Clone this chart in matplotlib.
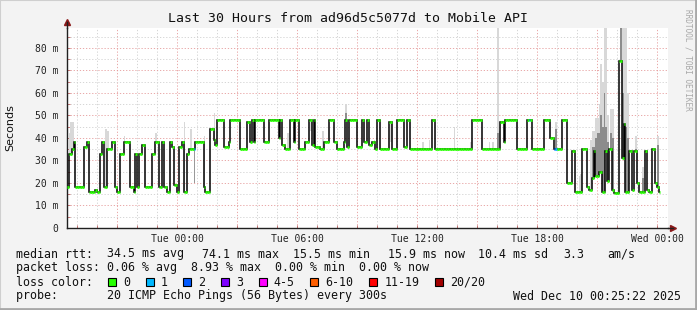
import numpy as np
import matplotlib
matplotlib.use("Agg")
import matplotlib.pyplot as plt
from matplotlib.patches import Rectangle
from matplotlib.ticker import MultipleLocator, FixedLocator, FuncFormatter

W, H = 697, 310

# median rtt in ms, as runs of 5 minute samples (first sample Mon 18:30)
rtt_levels = [
    18, 33, 35, 38, 18, 36, 38, 16, 17, 16, 33, 38, 18, 35, 38, 18, 16, 33, 38, 18, 16, 33, 18, 33, 37,
    18, 33, 38, 18, 38, 18, 16, 38,
    36, 19, 16, 36, 38, 16, 33, 35, 38, 18, 16, 44, 39, 37, 48, 36, 38, 48, 35, 47, 38, 48, 38, 48, 38, 48,
    48, 40, 48, 37, 35, 48, 38, 48, 35, 38, 48, 37, 48, 36, 35, 38, 48, 38, 35, 38, 48, 36, 48, 36, 48, 38,
    48, 37, 38, 35, 48,
    48, 35, 47, 35, 48, 36, 48, 35, 48, 35, 48, 35,
    35, 47, 38, 48, 35, 48, 35, 48, 40, 35, 48, 20, 34, 16, 35, 18,
    17, 22, 34, 23, 25, 16, 34, 21, 35, 17, 15.5, 74, 31, 46, 16, 34, 17, 34, 20, 16, 34, 17, 16, 35, 20,
    18, 16,
]
rtt_runs = [
    1, 2, 1, 1, 5, 2, 1, 4, 1, 2, 1, 1, 2, 3, 2, 1, 2, 2, 4, 2, 1, 1, 1, 2, 2,
    4, 2, 2, 2, 1, 2, 2, 1,
    1, 2, 1, 2, 1, 2, 1, 4, 5, 1, 3, 2, 1, 1, 4, 3, 1, 6, 4, 2, 1, 1, 1, 5, 3, 4,
    2, 1, 1, 2, 3, 2, 1, 2, 4, 2, 2, 1, 1, 3, 2, 3, 3, 2, 4, 1, 1, 1, 5, 3, 1, 2,
    1, 2, 2, 1, 1,
    1, 5, 2, 3, 4, 2, 2, 13, 2, 22, 6, 1,
    10, 2, 1, 7, 6, 3, 7, 4, 2, 5, 3, 3, 2, 4, 3, 1,
    2, 1, 1, 2, 2, 2, 1, 1, 2, 1, 3, 2, 1, 1, 2, 2, 1, 2, 1, 4, 1, 1, 2, 2, 1,
    1, 1,
]

# smoke (spread of the 20 pings) above the median
smoke_step = [1, 2, 3, 23, 24, 34, 53, 70, 74, 82, 88, 132, 144, 146, 153, 159, 167, 184, 194,
              213, 217, 232, 242, 253, 255, 258, 259, 293, 307, 308, 314, 315, 316, 317, 318,
              319, 320, 321, 322, 323, 324, 326, 327, 332, 333, 334, 335, 336, 341, 345, 354]
smoke_top = [42, 47, 47, 44, 43, 41, 42, 47, 44, 41, 51, 42, 38, 43, 43, 48, 55, 39, 38,
             38, 39, 45, 38, 38, 38, 89, 43, 47, 23, 24, 39, 43, 43, 49, 49,
             55, 73, 65, 89, 89, 50, 53, 53, 89, 89, 89, 89, 60, 41, 27, 41]
smoke_dark = [0, 0, 0, 0, 0, 0, 0, 0, 0, 0, 0, 0, 0, 0, 0, 0, 51, 0, 0,
              0, 0, 0, 0, 0, 0, 42, 0, 44, 0, 0, 0, 36, 36, 40, 42,
              42, 50, 45, 60, 45, 38, 42, 40, 89, 60, 40, 45, 40, 35, 22, 37]
dip_step = [76]
dip_low = [20]

# samples with packet loss: loss class per sample
loss_step = [76, 277, 292, 293]
loss_class = [1, 1, 2, 1]

loss_labels = ["0", "1", "2", "3", "4-5", "6-10", "11-19", "20/20"]
loss_colors = ["#26ff00", "#00b8ff", "#0059ff", "#7e00ff", "#ff00ff", "#ff5e00", "#ff0000", "#a10000"]

hour_ticks = [0, 6, 12, 18, 24]
hour_labels = ["Tue 00:00", "Tue 06:00", "Tue 12:00", "Tue 18:00", "Wed 00:00"]

rtt_text = ["34.5 ms avg", "74.1 ms max", "15.5 ms min", "15.9 ms now", "10.4 ms sd", "3.3", "am/s"]
rtt_text_x = [107, 202, 293, 388, 478, 563, 607]

start_hour = -5.5
step_h = 5 / 60.0

mono = "DejaVu Sans Mono"


def fx(x):
    return x / W


def fy(y):
    return 1 - y / H


fig = plt.figure(figsize=(W / 100, H / 100), dpi=100, facecolor="#f3f3f3")
# frame
fig.patches.append(Rectangle((0, 0), 1, 1, transform=fig.transFigure, fill=False,
                             edgecolor="#cfcfcf", lw=1.5))
fig.lines.append(plt.Line2D([0, 1], [0.004, 0.004], transform=fig.transFigure, color="#a8a8a8", lw=2))
fig.lines.append(plt.Line2D([0.998, 0.998], [0, 1], transform=fig.transFigure, color="#a8a8a8", lw=2))

ax = fig.add_axes([fx(67), fy(228), (668 - 67) / W, 200.3 / H])
ax.set_facecolor("white")

median = np.repeat(np.array(rtt_levels, dtype=float), rtt_runs)
n = len(median)
edges = start_hour + np.arange(n + 1) * step_h

ax.set_xlim(start_hour, start_hour + 30.05)
ax.set_ylim(0, 89)

# grid
ax.xaxis.set_major_locator(FixedLocator(list(range(-3, 25, 3))))
ax.xaxis.set_minor_locator(MultipleLocator(1))
ax.yaxis.set_major_locator(MultipleLocator(10))
ax.yaxis.set_minor_locator(MultipleLocator(5))
ax.grid(which="minor", color="#cfcfcf", lw=0.6, linestyle=(0, (1.5, 2.2)), zorder=0)
ax.grid(which="major", color="#e59a9a", lw=0.6, linestyle=(0, (1.5, 2.2)), zorder=0)
ax.set_axisbelow(True)


def xfmt(v, pos):
    for h, lab in zip(hour_ticks, hour_labels):
        if abs(v - h) < 1e-6:
            return lab
    return ""


def yfmt(v, pos):
    return "0" if v == 0 else "%d m" % v


ax.xaxis.set_major_formatter(FuncFormatter(xfmt))
ax.yaxis.set_major_formatter(FuncFormatter(yfmt))
ax.tick_params(which="both", length=2, width=0.6, color="#c06060", direction="in")
ax.tick_params(axis="x", which="major", pad=4, labelsize=7, labelcolor="#222222")
ax.tick_params(axis="y", which="major", pad=6, labelsize=7, labelcolor="#222222")
for lab in ax.get_xticklabels() + ax.get_yticklabels():
    lab.set_family(mono)

for s in ["top", "right"]:
    ax.spines[s].set_visible(False)
for s in ["left", "bottom"]:
    ax.spines[s].set_color("#202020")
    ax.spines[s].set_linewidth(1)

# smoke
st = np.array(smoke_step)
base = median[st]
ax.bar(edges[st], np.array(smoke_top) - base, bottom=base, width=step_h, align="edge",
       color="#d8d8d8", lw=0, zorder=1)
dk = np.array(smoke_dark, dtype=float)
m = dk > 0
ax.bar(edges[st][m], np.maximum(dk[m] - base[m], 0), bottom=base[m], width=step_h, align="edge",
       color="#8c8c8c", lw=0, zorder=1)
ds = np.array(dip_step)
ax.bar(edges[ds], median[ds] - np.array(dip_low), bottom=dip_low, width=step_h, align="edge",
       color="#999999", lw=0, zorder=1)

# median line: black steps with loss coloured flats
ax.stairs(median, edges, baseline=None, color="black", lw=1.1, zorder=2)
cols = np.array([loss_colors[0]] * n, dtype=object)
for s_, c_ in zip(loss_step, loss_class):
    cols[s_] = loss_colors[c_]
ax.hlines(median, edges[:-1], edges[1:], colors=list(cols), lw=2.0, zorder=3)

# axis arrows
ax.plot([0], [1.03], marker="^", ms=4, color="#8b1a1a", transform=ax.transAxes, clip_on=False)
ax.plot([1.008], [0], marker=">", ms=4, color="#8b1a1a", transform=ax.transAxes, clip_on=False)
ax.plot([0, 0], [1.0, 1.03], color="#202020", lw=1, transform=ax.transAxes, clip_on=False)
ax.plot([1.0, 1.008], [0, 0], color="#202020", lw=1, transform=ax.transAxes, clip_on=False)

# texts
fig.text(fx(347.5), fy(19), "Last 30 Hours from ad96d5c5077d to Mobile API", family=mono,
         fontsize=9.5, ha="center", va="center", color="#111111")
fig.text(fx(10), fy(128), "Seconds", rotation=90, fontsize=8, ha="center", va="center",
         color="#111111")
fig.text(fx(688), fy(60), "RRDTOOL / TOBI OETIKER", rotation=270, family=mono, fontsize=5.6,
         ha="center", va="center", color="#a8a8a8")

leg = dict(family=mono, fontsize=8.4, va="center", ha="left", color="#111111")
fig.text(fx(16), fy(254), "median rtt:", **leg)
for t, x in zip(rtt_text, rtt_text_x):
    fig.text(fx(x), fy(254), t, **leg)
fig.text(fx(16), fy(268), "packet loss: 0.06 % avg  8.93 % max  0.00 % min  0.00 % now", **leg)
fig.text(fx(16), fy(282), "loss color:", **leg)
fig.text(fx(16), fy(296), "probe:       20 ICMP Echo Pings (56 Bytes) every 300s", **leg)
fig.text(fx(681), fy(296), "Wed Dec 10 00:25:22 2025", **dict(leg, ha="right"))

bx = 108
for lab, col in zip(loss_labels, loss_colors):
    fig.patches.append(Rectangle((fx(bx), fy(286)), 8 / W, 8 / H, transform=fig.transFigure,
                                 facecolor=col, edgecolor="black", lw=0.8))
    fig.text(fx(bx + 15), fy(282), lab, **leg)
    bx += 15 + 7 * len(lab) + 15.7

fig.savefig("out.png", dpi=100, facecolor=fig.get_facecolor())
